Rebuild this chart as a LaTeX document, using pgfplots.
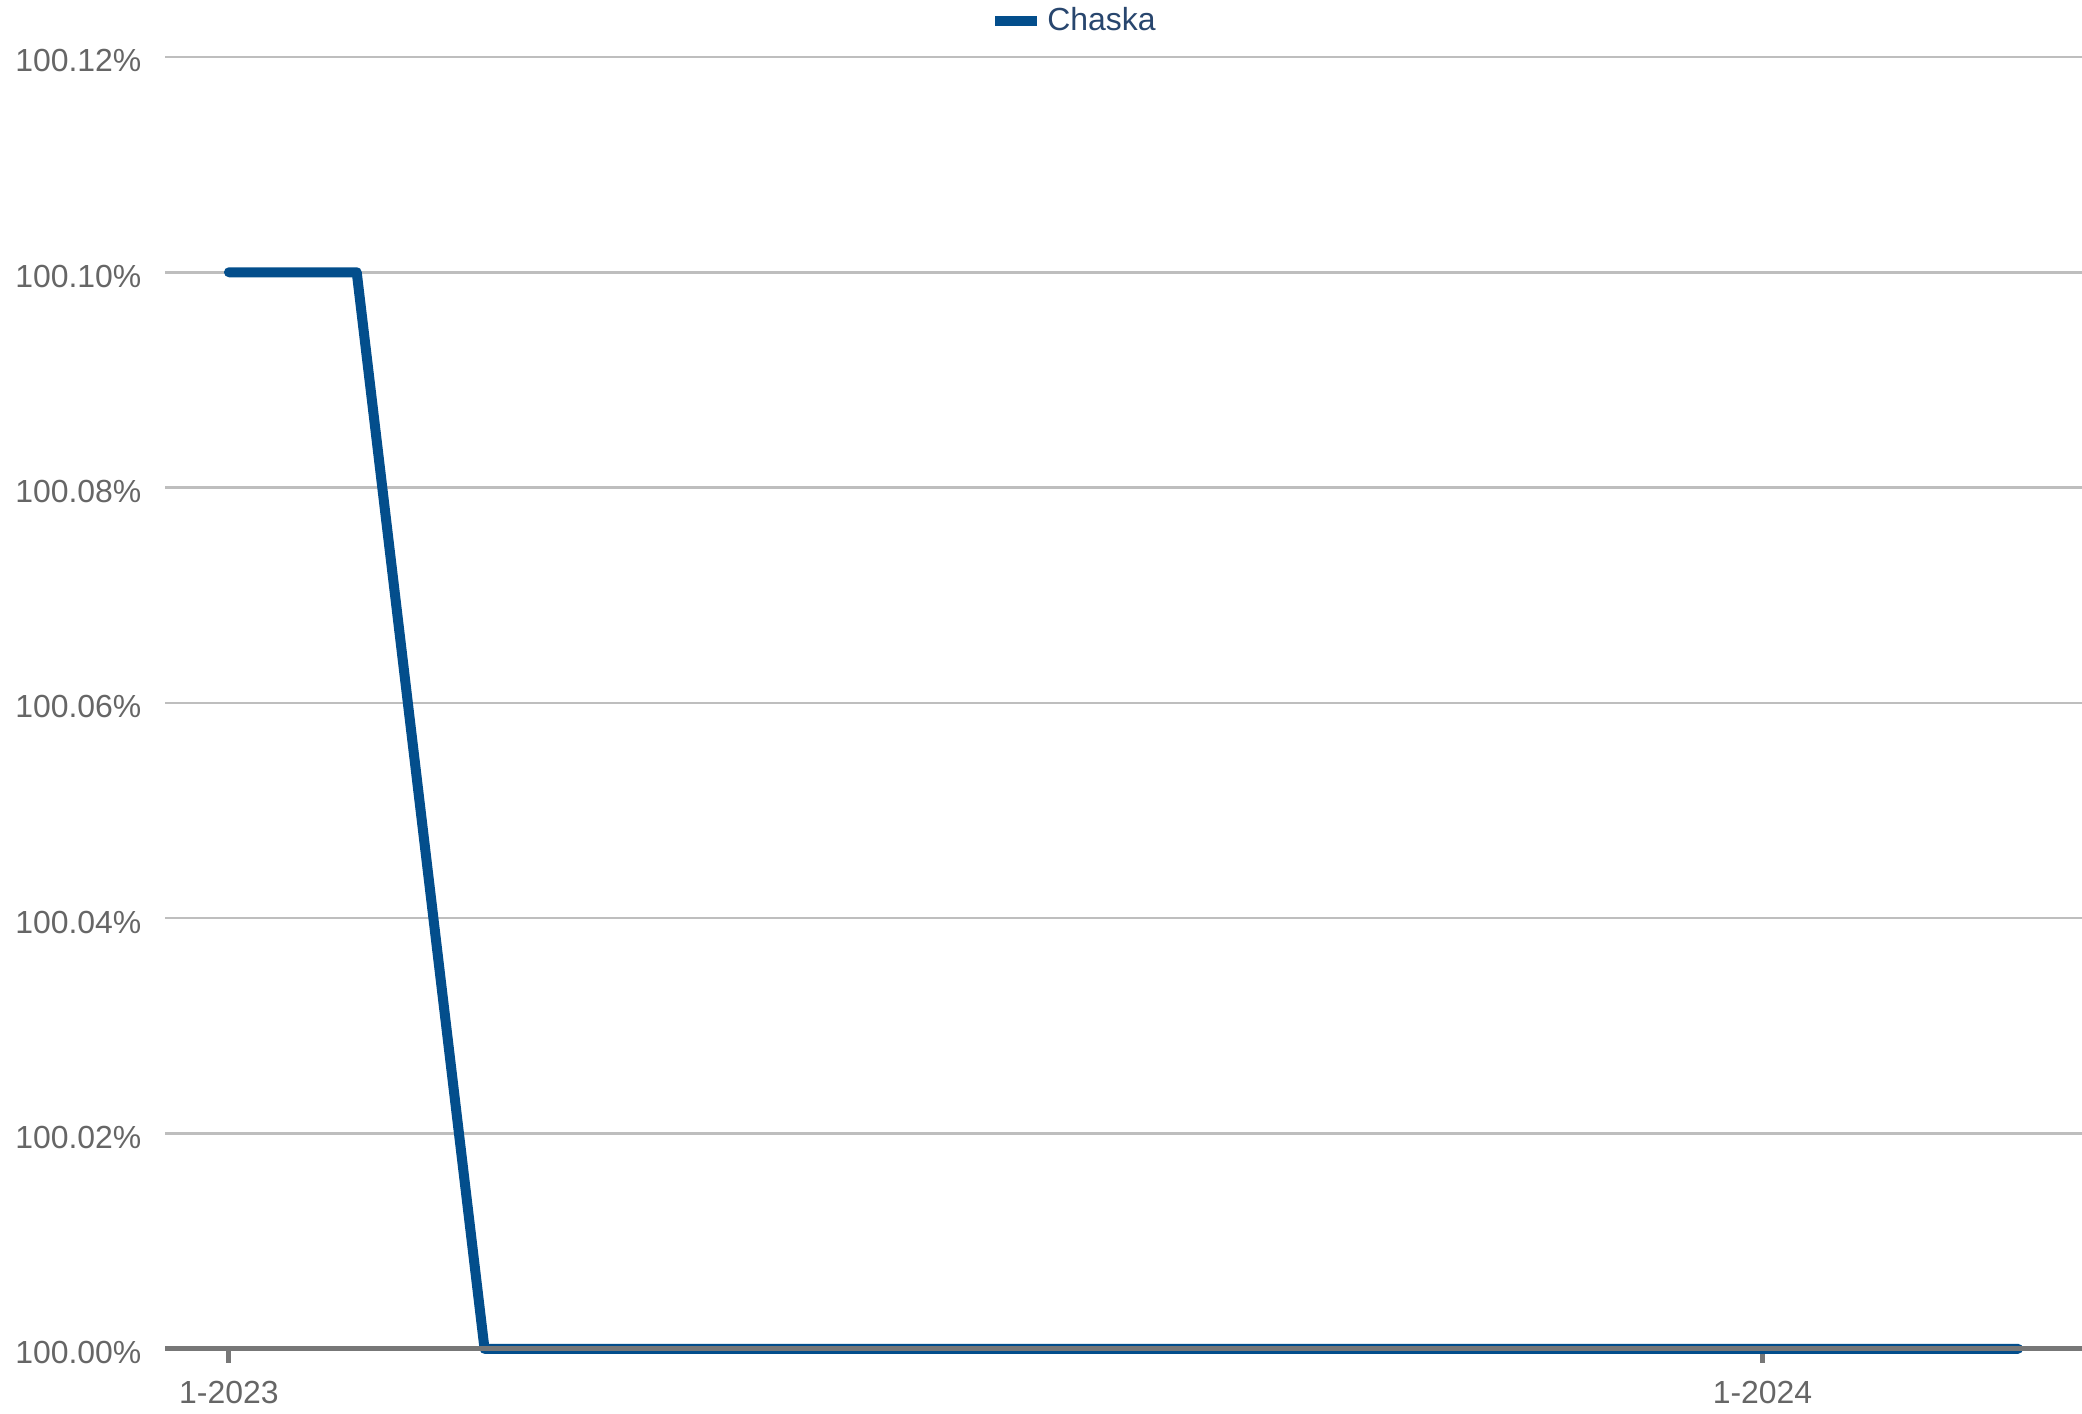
\documentclass[border=0pt]{standalone}
\usepackage{pgfplots}
\pgfplotsset{compat=1.18}
\usepackage{fontspec}
\setmainfont{Liberation Sans}
\definecolor{chaska}{RGB}{3,78,140}
\definecolor{ticktext}{RGB}{102,102,102}
\definecolor{gridgray}{RGB}{190,190,190}
\definecolor{axisgray}{RGB}{119,119,119}
\definecolor{legtext}{RGB}{40,70,110}

\begin{document}
\begin{tikzpicture}
\begin{axis}[
	at={(0,0)}, anchor=south west,
	scale only axis, width=690pt, height=465pt,
	xmin=-0.5, xmax=14.5, ymin=100, ymax=100.12,
	axis x line*=bottom, axis y line*=left,
	x axis line style={-, axisgray, line width=1.8pt},
	y axis line style={draw=none},
	xtick={0,12}, xticklabels={1-2023,1-2024},
	ytick={100,100.02,100.04,100.06,100.08,100.10,100.12},
	yticklabels={100.00\%,100.02\%,100.04\%,100.06\%,100.08\%,100.10\%,100.12\%},
	tick align=outside, major tick length=5pt,
	xtick style={axisgray, line width=1.8pt},
	ytick style={draw=none},
	ymajorgrids, major grid style={gridgray, line width=0.9pt},
	every tick label/.append style={font=\fontsize{11.5}{13}\selectfont, text=ticktext},
	yticklabel style={anchor=east, inner sep=0pt, xshift=5pt-8.3pt, yshift=-1.4pt},
	xticklabel style={anchor=north, inner sep=0pt, yshift=-6.4pt},
	legend style={draw=none, fill=none, at={(0.475,1.028)}, anchor=center,
		font=\fontsize{11.5}{13}\selectfont\color{legtext}},
	legend image code/.code={\draw[#1, line cap=butt, line width=3.6pt] (0pt,0pt) -- (15pt,0pt);},
	clip=false,
]
\addplot[chaska, line width=3.6pt, line cap=round, line join=round] coordinates {
	(0,100.10) (1,100.10) (2,100.00) (3,100.00) (4,100.00) (5,100.00) (6,100.00)
	(7,100.00) (8,100.00) (9,100.00) (10,100.00) (11,100.00) (12,100.00)
	(13,100.00) (14,100.00)
};
\addlegendentry{Chaska}
\draw[axisgray, line width=1.8pt] (rel axis cs:0,0) -- (rel axis cs:1,0);
\end{axis}
\pgfresetboundingbox
\useasboundingbox (-59.4pt,-23.4pt) rectangle (690pt,485.5pt);
\end{tikzpicture}
\end{document}
